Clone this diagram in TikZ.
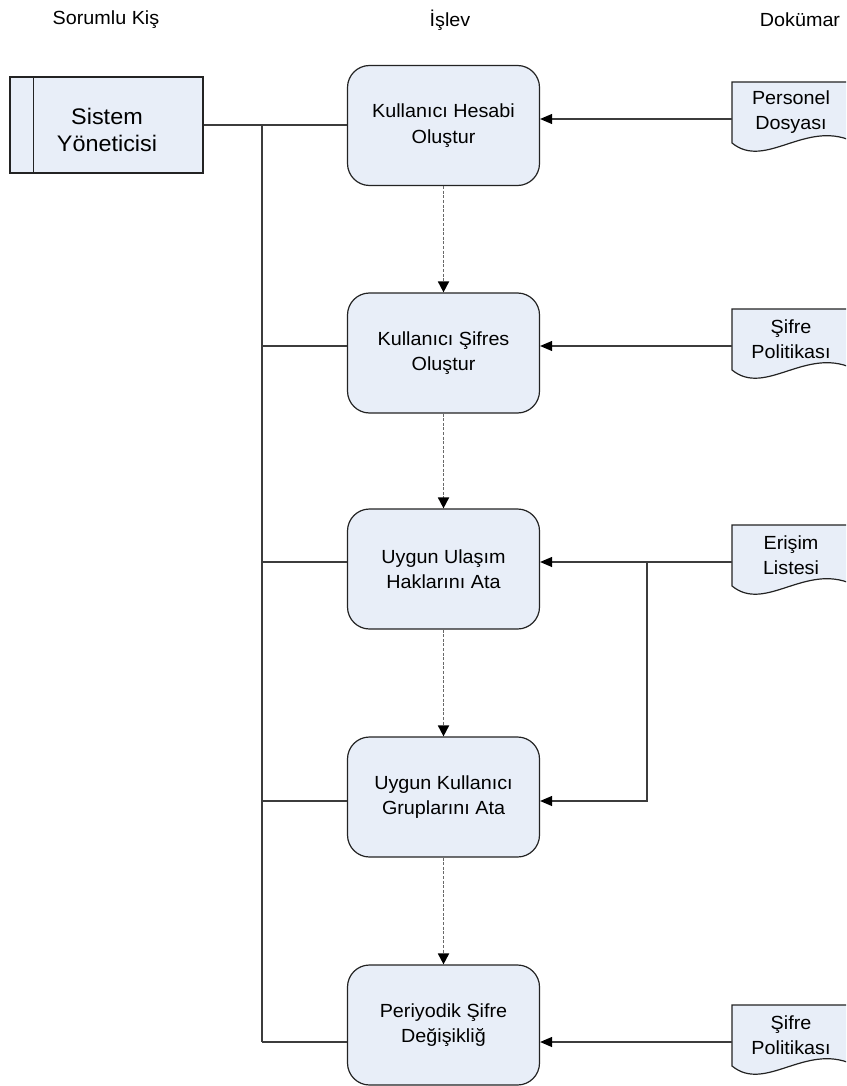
\documentclass[tikz,border=0pt]{standalone}
\usepackage{fontspec}
\setmainfont[FakeStretch=1.04]{Liberation Sans}
\usetikzlibrary{arrows.meta}
\definecolor{boxfill}{RGB}{232,238,248}
\definecolor{boxedge}{RGB}{35,35,35}
\definecolor{wire}{RGB}{60,60,60}
\definecolor{flowdash}{RGB}{105,105,105}
\tikzset{
  lbl/.style={font=\fontsize{19}{25.5}\selectfont, align=center, inner sep=0pt},
  head/.style={font=\fontsize{19}{22}\selectfont, inner sep=0pt},
  proc/.style={draw=boxedge, line width=1.2pt, fill=boxfill, rounded corners=22pt,
    minimum width=192pt, minimum height=120pt, lbl},
  actor/.style={draw=boxedge, line width=1.2pt, fill=boxfill,
    minimum width=193pt, minimum height=96pt, inner sep=0pt},
  docshape/.style={draw=boxedge, line width=1.2pt, fill=boxfill},
  wireline/.style={draw=wire, line width=1.1pt},
  feed/.style={wireline, -{Triangle[length=12pt,width=10pt,color=black]}},
  flow/.style={draw=flowdash, line width=1.8pt, dash pattern=on 3pt off 1.6pt,
    -{Triangle[length=11pt,width=11pt,color=black]}},
}
% document symbol: top left corner, text inside
\newcommand{\docsym}[3]{%
  \path[docshape] (732,#1) -- (852,#1) -- (852,{#1+59})
    .. controls (805,{#1+38}) and (765,{#1+88}) .. (732,{#1+61}) -- cycle;
  \node[lbl] (#2) at (791,{#1+30}) {#3};
}
\begin{document}
\begin{tikzpicture}[x=1pt,y=-1pt]
\useasboundingbox (0,0) rectangle (846,1086);
\clip (0,0) rectangle (846,1086);

% column headings
\node[head] (h1) at (106,20) {Sorumlu Kiş};
\node[head] (h2) at (450,20) {İşlev};
\node[head] (h3) at (800,20) {Dokümar};

% responsible person
\node[actor] (sy) at (106.5,125) {};
\node[font=\fontsize{22.5}{26.5}\selectfont, align=center, inner sep=0pt] (syt) at (107,130) {Sistem\\Yöneticisi};
\draw[boxedge, line width=1.2pt] ([xshift=24pt]sy.north west) -- ([xshift=24pt]sy.south west);

% process steps
\node[proc] (p1) at (443.5,125.5) {Kullanıcı Hesabi\\Oluştur};
\node[proc] (p2) at (443.5,353)   {Kullanıcı Şifres\\Oluştur};
\node[proc] (p3) at (443.5,569)   {Uygun Ulaşım\\Haklarını Ata};
\node[proc] (p4) at (443.5,797)   {Uygun Kullanıcı\\Gruplarını Ata};
\node[proc] (p5) at (443.5,1025)  {Periyodik Şifre\\Değişikliğ};

% documents
\docsym{82}{d1}{Personel\\Dosyası}
\docsym{309}{d2}{Şifre\\Politikası}
\docsym{525}{d3}{Erişim\\Listesi}
\docsym{1005}{d4}{Şifre\\Politikası}

% connector ends on the documents and the trunk
\coordinate (e1) at (732,119);
\coordinate (e2) at (732,346);
\coordinate (e3) at (732,562);
\coordinate (e4) at (732,1042);
\coordinate (sp) at (647,562);
\coordinate (sq) at (647,801);
\coordinate (t0) at (262,125);
\coordinate (t2) at (262,346);
\coordinate (t3) at (262,562);
\coordinate (t4) at (262,801);
\coordinate (t5) at (262,1042);

% responsibility lines
\draw[wireline] (sy.east) -- (t0 -| p1.west);
\draw[wireline] (t0) -- (t5);
\draw[wireline] (t2) -- (t2 -| p2.west);
\draw[wireline] (t3) -- (t3 -| p3.west);
\draw[wireline] (t4) -- (t4 -| p4.west);
\draw[wireline] (t5) -- (t5 -| p5.west);

% document inputs
\draw[feed] (e1) -- (e1 -| p1.east);
\draw[feed] (e2) -- (e2 -| p2.east);
\draw[feed] (e3) -- (e3 -| p3.east);
\draw[feed] (sp) -- (sq) -- (sq -| p4.east);
\draw[feed] (e4) -- (e4 -| p5.east);

% process flow
\draw[flow] (p1.south) -- (p2.north);
\draw[flow] (p2.south) -- (p3.north);
\draw[flow] (p3.south) -- (p4.north);
\draw[flow] (p4.south) -- (p5.north);
\end{tikzpicture}
\end{document}
